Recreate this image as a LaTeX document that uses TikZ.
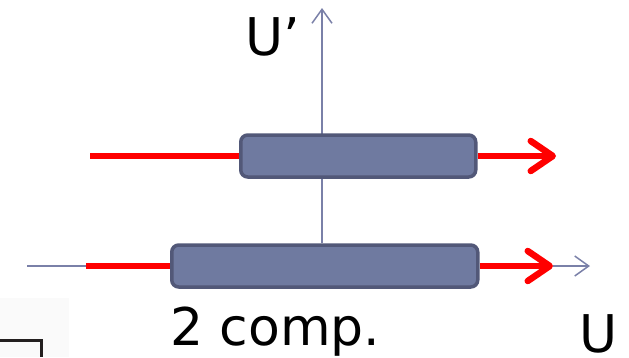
\documentclass[tikz,border=0pt]{standalone}
\usepackage{fontspec}
\setmainfont{DejaVu Sans}
\usetikzlibrary{arrows.meta}
\definecolor{axisblue}{HTML}{7A80A8}
\definecolor{boxfill}{HTML}{6F7AA0}
\definecolor{boxline}{HTML}{525878}
\definecolor{beamred}{HTML}{FF0000}
\definecolor{framedark}{HTML}{231F1F}
\tikzset{
  axis/.style={draw=axisblue, line width=1.5pt, -{Straight Barb[length=14pt,width=20pt,line width=1.5pt]}},
  axisline/.style={draw=axisblue, line width=1.5pt},
  beam/.style={draw=beamred, line width=6.5pt},
  beamarrow/.style={draw=beamred, line width=6.5pt, -{Straight Barb[length=22pt,width=30pt,round,line width=6.5pt]}},
  slab/.style={draw=boxline, fill=boxfill, line width=3.5pt, rounded corners=7pt, inner sep=0pt},
  lbl/.style={font=\fontsize{52pt}{60pt}\selectfont, inner sep=0pt}
}
\begin{document}
\begin{tikzpicture}[x=1pt,y=-1pt]
\useasboundingbox (0,0) rectangle (629,357);
% faint panel and dark frame corner bottom-left
\fill[white!98!black] (0,298) rectangle (69,357);
\draw[line width=3pt, draw=framedark] (0,340) -- (41,340) -- (41,357);
% coordinates
\coordinate (ytip) at (322,8);
\coordinate (xstart) at (27,266);
\coordinate (xtip) at (590,266);
\coordinate (r1s) at (90,156);
\coordinate (r1e) at (556,156);
\coordinate (r2s) at (86,266);
\coordinate (r2e) at (553,266);
% bottom box
\node[slab, minimum width=306pt, minimum height=42pt, anchor=west] (bot) at (170,266) {};
% axes
\draw[axisline] (xstart) -- (r2s);
\draw[axis] (r2e) -- (xtip);
\draw[axis] (bot.north -| ytip) -- (ytip);
% top box (over the vertical axis)
\node[slab, minimum width=235pt, minimum height=42pt, anchor=west] (top) at (239,156) {};
% red beams
\draw[beam] (r2s) -- (bot.west);
\draw[beamarrow] (bot.east) -- (r2e);
\draw[beam] (r1s) -- (top.west);
\draw[beamarrow] (top.east) -- (r1e);
% labels
\node[lbl, anchor=base west] (up) at (245,55) {U’};
\node[lbl, anchor=base west] (comp) at (170,345) {2 comp.};
\node[lbl, anchor=base west] (u) at (579,352) {U};
\end{tikzpicture}
\end{document}
